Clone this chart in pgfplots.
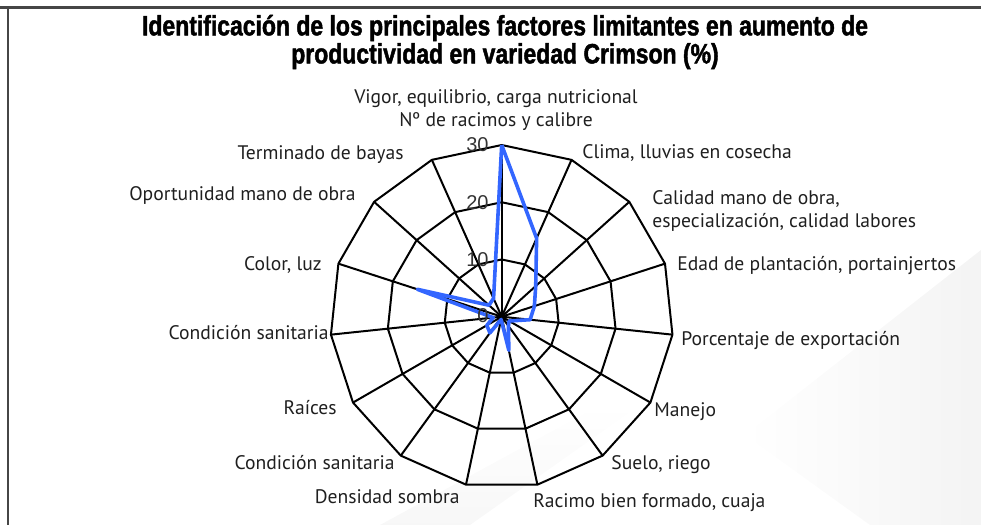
\documentclass[border=0pt]{standalone}
\usepackage{fontspec}
\setmainfont{PT Sans}
\newfontfamily\titlefont[FakeStretch=0.82,FakeBold=1.6]{Liberation Sans}
\newfontfamily\numfont{Liberation Sans}
\usepackage{pgfplots}
\usepackage{pgfplotstable}
\usepgfplotslibrary{polar}
\pgfplotsset{compat=1.18}
\definecolor{serie}{RGB}{51,102,255}
\definecolor{marco}{RGB}{70,70,70}

% angulo (grados), valor (%)
\pgfplotstableread{
a v
90 30
66 15
42 8
18 6
-6 5
-30 1.5
-54 2
-78 6
-102 0.5
-126 3.5
-150 3
-174 1.5
-198 15.5
-222 3
-246 3.5
-270 30
}\crimson

\begin{document}
\begin{tikzpicture}
\useasboundingbox (0,0) rectangle (490.5pt,-262.5pt);
\begin{scope}[x=0.5pt,y=-0.5pt]
  % fondo
  \shade[left color=white, right color=gray!9] (870,525) -- (745,435) -- (981,250) -- (981,525) -- cycle;
  \shade[top color=white, bottom color=gray!6] (380,525) -- (470,525) -- (640,405) -- (600,405) -- cycle;
  % marco
  \draw[marco, line width=1.5pt] (0,7) -- (981,7);
  \draw[marco, line width=1pt] (8,7) -- (8,525);
  % titulo
  \node[inner sep=0, align=center, font=\titlefont\bfseries\fontsize{14}{12}\selectfont] at (505,42)
    {Identificación de los principales factores limitantes en aumento de\\productividad en variedad Crimson (\%)};
\end{scope}

\begin{polaraxis}[
  at={(250.85pt,-158.35pt)}, anchor=center,
  scale only axis, width=171.7pt, height=171.7pt,
  ymin=0, ymax=30, hide axis, clip=false,
]
\pgfplotsinvokeforeach{10,20,30}{
  \addplot[black, line width=1pt, line join=round] coordinates {
    (90,#1)(66,#1)(42,#1)(18,#1)(-6,#1)(-30,#1)(-54,#1)(-78,#1)
    (-102,#1)(-126,#1)(-150,#1)(-174,#1)(-198,#1)(-222,#1)(-246,#1)(-270,#1)};
}
\pgfplotsinvokeforeach{90,66,42,18,-6,-30,-54,-78,-102,-126,-150,-174,-198,-222,-246}{
  \addplot[black, line width=1pt] coordinates {(#1,0)(#1,30)};
}
\addplot[serie, line width=1.8pt, line join=round] table[x=a, y=v] {\crimson};
\end{polaraxis}

\begin{scope}[x=0.5pt,y=-0.5pt, every node/.style={inner sep=0, font=\fontsize{9.8}{11.5}\selectfont, text=black!88}]
  \node[align=center] at (496,110) {Vigor, equilibrio, carga nutricional\\Nº de racimos y calibre};
  \node[anchor=west] at (582,153) {Clima, lluvias en cosecha};
  \node[anchor=west, align=left] at (652,211) {Calidad mano de obra,\\especialización, calidad labores};
  \node[anchor=west] at (677,266) {Edad de plantación, portainjertos};
  \node[anchor=west] at (681,341) {Porcentaje de exportación};
  \node[anchor=west] at (654,412) {Manejo};
  \node[anchor=west] at (611,465) {Suelo, riego};
  \node[anchor=west] at (533,503) {Racimo bien formado, cuaja};
  \node[anchor=east] at (460,497) {Densidad sombra};
  \node[anchor=east] at (395,463) {Condición sanitaria};
  \node[anchor=east] at (337,408) {Raíces};
  \node[anchor=east] at (329,333) {Condición sanitaria};
  \node[anchor=east] at (322,265) {Color, luz};
  \node[anchor=east] at (356,195) {Oportunidad mano de obra};
  \node[anchor=east] at (404,155) {Terminado de bayas};
  \begin{scope}[every node/.style={inner sep=0, anchor=east, font=\numfont\fontsize{10}{10}\selectfont, text=black!80}]
    \node at (489,145) {30};
    \node at (489,203) {20};
    \node at (489,260) {10};
    \node at (489,316) {0};
  \end{scope}
\end{scope}
\end{tikzpicture}
\end{document}
